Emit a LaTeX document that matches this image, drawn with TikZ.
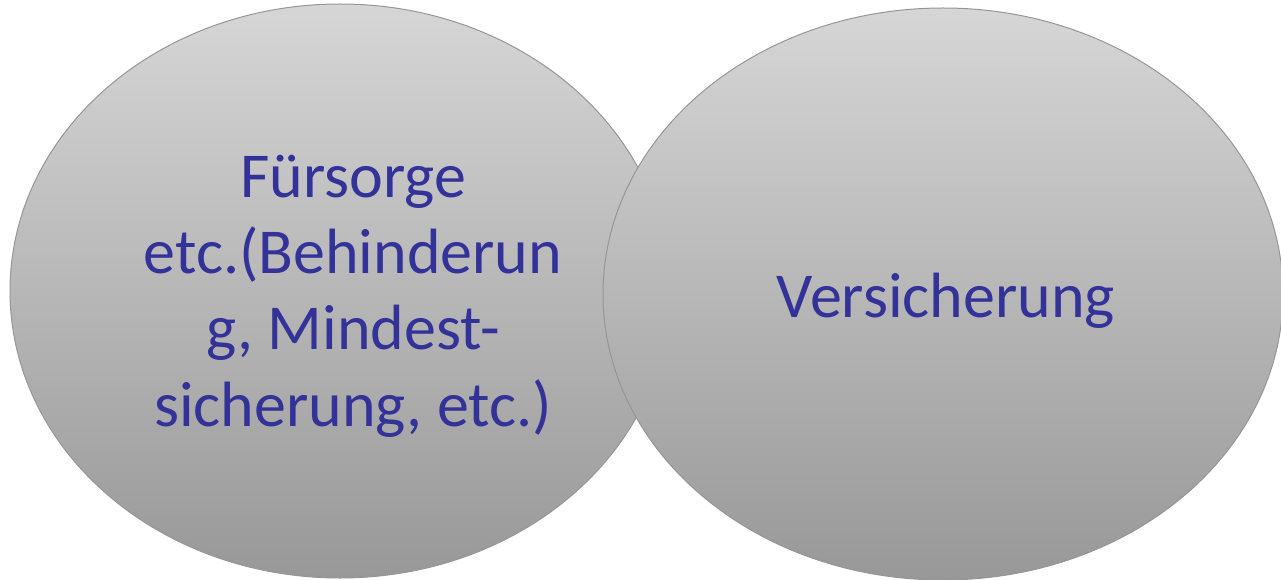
\documentclass[tikz,border=0pt]{standalone}
\usepackage{fontspec}
\setmainfont{Carlito}
\usetikzlibrary{shapes.geometric}
\definecolor{topgrey}{RGB}{214,214,214}
\definecolor{botgrey}{RGB}{152,152,152}
\definecolor{edgegrey}{RGB}{150,150,150}
\definecolor{txtblue}{RGB}{50,50,153}
\tikzset{
  blob/.style={ellipse, draw=edgegrey, line width=1pt, top color=topgrey, bottom color=botgrey, inner sep=0pt},
  lbl/.style={text=txtblue, align=center, inner sep=0pt, font=\fontsize{64}{76.3}\selectfont}
}
\begin{document}
\begin{tikzpicture}[x=1pt,y=-1pt]
\useasboundingbox (0,0) rectangle (1281,580);
\node[blob, minimum width=660pt, minimum height=574pt] (left) at (340,291) {};
\node[blob, minimum width=680pt, minimum height=572pt] (right) at (943,294) {};
\node[lbl] (ltext) at (353,296) {Fürsorge\\etc.(Behinderun\\g, Mindest-\\sicherung, etc.)};
\node[lbl, anchor=base] (rtext) at (946,317) {Versicherung};
\end{tikzpicture}
\end{document}
